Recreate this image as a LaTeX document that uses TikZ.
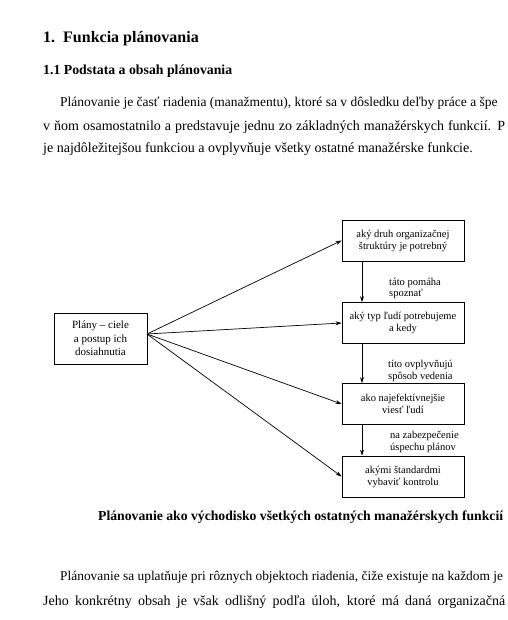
\documentclass[tikz,border=0pt]{standalone}
\usepackage{fontspec}
\setmainfont{Liberation Serif}
\usetikzlibrary{arrows.meta}
\tikzset{
  box/.style={draw, line width=0.8pt, minimum width=122pt, minimum height=41pt, align=center, inner sep=2pt, font=\fontsize{10.5}{12}\selectfont},
  lbox/.style={draw, line width=0.8pt, minimum width=93pt, minimum height=51pt, align=center, inner sep=2pt, font=\fontsize{11}{13.5}\selectfont},
  lab/.style={align=left, anchor=west, inner sep=0pt, font=\fontsize{10.5}{11.5}\selectfont},
  arr/.style={-{Stealth[length=6pt,width=4pt]}, line width=0.7pt},
  body/.style={anchor=base west, inner sep=0pt, font=\fontsize{14}{16}\selectfont}
}
\begin{document}
\begin{tikzpicture}[x=1pt,y=-1pt]
\useasboundingbox (0,0) rectangle (507,620);
% headings
\node[body, font=\fontsize{16}{18}\bfseries] (h1) at (43,43) {1.\ \ Funkcia plánovania};
\node[body, font=\fontsize{13.8}{16}\bfseries] (h2) at (43,75) {1.1 Podstata a obsah plánovania};
\node[body, font=\fontsize{13.5}{16}\selectfont] (p1) at (60,107) {Plánovanie je časť riadenia (manažmentu), ktoré sa v dôsledku deľby práce a špe};
\node[body] (p2) at (43,131) {\makebox[462pt][s]{v ňom osamostatnilo a predstavuje jednu zo základných manažérskych funkcií. P}};
\node[body] (p3) at (43,153) {je najdôležitejšou funkciou a ovplyvňuje všetky ostatné manažérske funkcie.};
% diagram
\node[lbox] (plany) at (100.5,338.5) {Plány – ciele\\a postup ich\\dosiahnutia};
\node[box] (b1) at (403,240.5) {aký druh organizačnej\\štruktúry je potrebný};
\node[box] (b2) at (403,323) {aký typ ľudí potrebujeme\\a kedy};
\node[box] (b3) at (403,404) {ako najefektívnejšie\\viesť ľudí};
\node[box] (b4) at (403,476.5) {akými štandardmi\\vybaviť kontrolu};
\coordinate (o) at (147,334);
\draw[arr] (o) -- (b1.west);
\draw[arr] (o) -- (b2.west);
\draw[arr] (o) -- (b3.west);
\draw[arr] (o) -- (b4.west);
\draw[arr] (b1.south -| 362,0) -- (b2.north -| 362,0);
\draw[arr] (b2.south -| 362,0) -- (b3.north -| 362,0);
\draw[arr] (b3.south -| 362,0) -- (b4.north -| 362,0);
\node[lab] (l1) at (389,288.5) {táto pomáha\\spoznať};
\node[lab] (l2) at (388,371) {títo ovplyvňujú\\spôsob vedenia};
\node[lab] (l3) at (390,442) {na zabezpečenie\\úspechu plánov};
\node[body, font=\fontsize{13.7}{16}\bfseries] (cap) at (98,520) {Plánovanie ako východisko všetkých ostatných manažérskych funkcií};
\node[body, font=\fontsize{13.4}{16}\selectfont] (q1) at (60,580) {Plánovanie sa uplatňuje pri rôznych objektoch riadenia, čiže existuje na každom je};
\node[body] (q2) at (43,605) {\makebox[462pt][s]{Jeho konkrétny obsah je však odlišný podľa úloh, ktoré má daná organizačná}};
\end{tikzpicture}
\end{document}
